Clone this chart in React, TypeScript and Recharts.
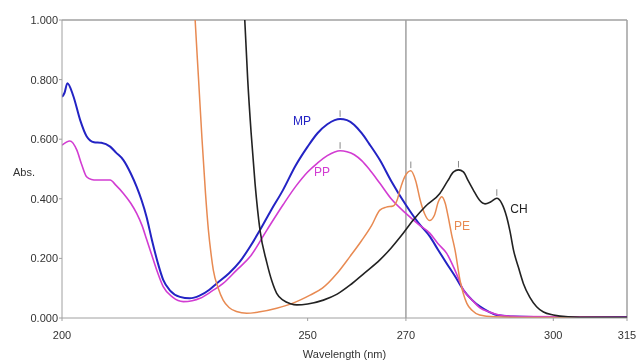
import React from 'react';
import { LineChart, Line, XAxis, YAxis, ReferenceLine, ReferenceDot } from 'recharts';

const xTicks = [200, 250, 270, 300, 315];
const yTicks = [0, 0.2, 0.4, 0.6, 0.8, 1.0];

const mpNm = [200, 200.5, 201.1, 202.3, 203.7, 205, 206.5, 208, 209.8, 211, 212.5, 214, 215.2, 216.2, 217.2, 218.3, 219.5, 220.6, 222, 224, 226, 228, 230, 231.5, 234, 236.2, 238.3, 240.3, 242.5, 245, 247.5, 250, 252, 254, 255.5, 256.6, 258, 259.5, 261, 262.5, 264.7, 267, 270, 272.5, 274.9, 276.5, 278.3, 280, 281.7, 283.5, 285.1, 287, 288.5, 292, 300, 315];
const mpAbs = [0.742, 0.755, 0.788, 0.745, 0.664, 0.61, 0.59, 0.588, 0.575, 0.555, 0.53, 0.485, 0.44, 0.395, 0.34, 0.262, 0.185, 0.128, 0.092, 0.071, 0.066, 0.075, 0.095, 0.116, 0.15, 0.189, 0.24, 0.295, 0.36, 0.43, 0.51, 0.575, 0.62, 0.65, 0.664, 0.668, 0.664, 0.648, 0.62, 0.585, 0.53, 0.46, 0.379, 0.32, 0.273, 0.23, 0.183, 0.14, 0.094, 0.06, 0.038, 0.02, 0.01, 0.005, 0.003, 0.003];

const ppNm = [200, 201.6, 203, 204, 205, 206, 207, 209.8, 211, 212.5, 214, 215.2, 216.3, 217.2, 218.2, 219.4, 220.6, 222.5, 224.7, 226.5, 228.1, 230.5, 232.8, 235.5, 238.3, 241.7, 245, 247.5, 250, 252, 254, 255.5, 256.6, 258, 259.5, 261, 262.5, 264.7, 267, 270, 272.5, 274.9, 276.5, 278.3, 280, 281.7, 283.5, 285, 287, 289, 293, 315];
const ppAbs = [0.58, 0.594, 0.564, 0.515, 0.474, 0.465, 0.463, 0.463, 0.445, 0.418, 0.385, 0.351, 0.31, 0.265, 0.215, 0.155, 0.105, 0.07, 0.055, 0.058, 0.066, 0.09, 0.116, 0.16, 0.206, 0.295, 0.38, 0.44, 0.49, 0.52, 0.545, 0.557, 0.561, 0.558, 0.548, 0.528, 0.5, 0.452, 0.4, 0.351, 0.315, 0.284, 0.25, 0.217, 0.16, 0.094, 0.06, 0.035, 0.02, 0.01, 0.005, 0.003];

const peNm = [226.5, 227.1, 227.8, 228.5, 229.2, 229.8, 230.3, 230.8, 231.8, 232.8, 234, 235.5, 237.6, 240, 243.7, 247, 250.5, 253, 256, 258.6, 261, 263, 264.7, 266, 267.4, 268.2, 268.8, 269.8, 271, 272, 272.9, 273.8, 274.8, 275.8, 276.6, 277.3, 278, 278.6, 279.3, 280, 281, 282.4, 283.5, 285, 288, 295, 315];
const peAbs = [1.2, 1.0, 0.8, 0.6, 0.42, 0.295, 0.22, 0.161, 0.1, 0.06, 0.035, 0.022, 0.016, 0.02, 0.033, 0.05, 0.077, 0.1, 0.15, 0.206, 0.26, 0.31, 0.362, 0.372, 0.376, 0.395, 0.43, 0.475, 0.494, 0.46, 0.396, 0.35, 0.327, 0.345, 0.39, 0.407, 0.385, 0.34, 0.28, 0.228, 0.128, 0.049, 0.025, 0.01, 0.004, 0.002, 0.001];

const chNm = [236.5, 237.2, 237.8, 238.5, 239.3, 240.3, 241.7, 242.7, 243.7, 245, 246.5, 247.8, 250, 253.2, 256, 258.6, 261.5, 264.7, 267, 269, 271.5, 274, 276.9, 278.5, 279.7, 280.7, 281.7, 282.7, 283.7, 285, 286.1, 287.3, 288.5, 289.5, 290.5, 291.2, 291.9, 292.9, 293.9, 295.2, 296.6, 298, 300, 303, 308, 315];
const chAbs = [1.3, 1.0, 0.8, 0.62, 0.45, 0.295, 0.185, 0.125, 0.083, 0.06, 0.048, 0.044, 0.047, 0.06, 0.08, 0.11, 0.15, 0.195, 0.235, 0.275, 0.329, 0.375, 0.418, 0.46, 0.49, 0.497, 0.49, 0.46, 0.43, 0.395, 0.383, 0.39, 0.402, 0.385, 0.34, 0.29, 0.228, 0.17, 0.116, 0.07, 0.038, 0.02, 0.01, 0.004, 0.002, 0.002];

const seriesNames = ['MP', 'PP', 'PE', 'CH'];
const seriesColors = ['#2323c4', '#d23cd2', '#e88a52', '#222222'];
const labelNm = [248.85, 252.9, 281.4, 293.0];
const labelAbs = [0.661, 0.49, 0.309, 0.366];
const peakNm = [256.6, 256.6, 271, 280.7, 288.5];
const peakAbs = [0.675, 0.568, 0.503, 0.505, 0.41];

const zip = (xs: number[], ys: number[]) => xs.map((x, i) => ({ x, y: ys[i] }));
const allData = [zip(mpNm, mpAbs), zip(ppNm, ppAbs), zip(peNm, peAbs), zip(chNm, chAbs)];
const widths = [2, 1.6, 1.5, 1.6];

const font = '"Liberation Sans", Arial, sans-serif';

export default function App() {
  return (
    <div style={{ position: 'fixed', left: 0, top: 0, fontFamily: font }}>
      <LineChart width={637} height={363} margin={{ top: 20, right: 10, bottom: 15, left: 8 }}>
        <XAxis
          dataKey="x"
          type="number"
          domain={[200, 315]}
          ticks={xTicks}
          allowDataOverflow
          stroke="#a0a0a0"
          tickSize={3}
          tickMargin={10}
          tick={{ fill: '#333', fontSize: 11, fontFamily: font }}
          height={30}
          label={{ value: 'Wavelength (nm)', position: 'insideBottom', offset: -10, fill: '#333', fontSize: 11, fontFamily: font }}
        />
        <YAxis
          type="number"
          domain={[0, 1]}
          ticks={yTicks}
          allowDataOverflow
          stroke="#a0a0a0"
          width={54}
          tickSize={3}
          tickMargin={1}
          tickFormatter={(v: number) => v.toFixed(3)}
          tick={{ fill: '#333', fontSize: 11, fontFamily: font }}
          label={{ value: 'Abs.', position: 'insideLeft', offset: 5, fill: '#333', fontSize: 11, fontFamily: font, dy: 3 }}
        />
        <ReferenceLine y={1} stroke="#a0a0a0" strokeWidth={1.5} />
        <ReferenceLine x={315} stroke="#a0a0a0" strokeWidth={1.5} />
        <ReferenceLine x={270} stroke="#a0a0a0" strokeWidth={1.5} />
        {peakNm.map((nm, i) => (
          <ReferenceLine
            key={'pk' + i}
            segment={[{ x: nm, y: peakAbs[i] }, { x: nm, y: peakAbs[i] + 0.022 }]}
            stroke="#888"
            strokeWidth={1}
          />
        ))}
        {allData.map((d, i) => (
          <Line
            key={seriesNames[i]}
            data={d}
            dataKey="y"
            name={seriesNames[i]}
            type="monotone"
            stroke={seriesColors[i]}
            strokeWidth={widths[i]}
            dot={false}
            activeDot={false}
            isAnimationActive={false}
          />
        ))}
        {seriesNames.map((n, i) => (
          <ReferenceDot
            key={'lb' + n}
            x={labelNm[i]}
            y={labelAbs[i]}
            r={0}
            stroke="none"
            fill="none"
            label={{ value: n, position: 'center', fill: seriesColors[i], fontSize: 12, fontFamily: font }}
          />
        ))}
      </LineChart>
    </div>
  );
}
